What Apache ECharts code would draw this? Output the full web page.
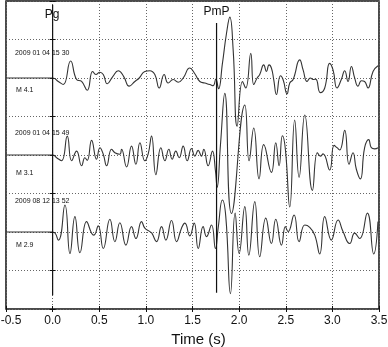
<!DOCTYPE html>
<html><head><meta charset="utf-8">
<script src="https://cdn.jsdelivr.net/npm/echarts@6/dist/echarts.min.js"></script>
<style>html,body{margin:0;padding:0;background:#fff}#c{width:388px;height:347px}</style>
</head><body><div id="c"></div>
<script>
// time axis
const xMin = -0.5, xMax = 3.5, xStep = 0.5;
// trace baselines (offset units)
const baselines = [6, 4, 2];
const eventDates = ['2009 01 04 15 30', '2009 01 04 15 49', '2009 08 12 13 52'];
const magnitudes = ['M 4.1', 'M 3.1', 'M 2.9'];
// phase picks [time, top, bottom]
const phaseNames = ['Pg', 'PmP'];
const phaseTimes = [0, 1.758];
const phaseTop = [7.9, 7.43];
const phaseBottom = [0.36, 0.42];

// [time (s), amplitude]
const trace1 = [[0,0],[.061,-.09],[.114,-.17],[.193,.44],[.257,-.04],[.311,-.09],[.371,-.32],[.429,.17],[.464,.09],[.507,.15],[.543,.09],[.586,-.15],[.643,.03],[.704,.19],[.764,.03],[.821,-.21],[.882,-.09],[.929,0],[.989,.17],[1.043,.19],[1.096,.09],[1.143,-.26],[1.196,.09],[1.239,-.13],[1.293,-.04],[1.346,-.11],[1.4,0],[1.471,.26],[1.525,.11],[1.579,-.09],[1.632,-.13],[1.686,-.17],[1.721,-.2],[1.75,-.03],[1.779,-.28],[1.821,.38],[1.864,1.15],[1.9,1.58],[1.936,.73],[1.979,-1.25],[2.036,-.09],[2.071,-.26],[2.125,.64],[2.157,-.17],[2.193,0],[2.221,.09],[2.264,.34],[2.293,.17],[2.321,.34],[2.346,.26],[2.371,-.04],[2.4,-.43],[2.443,.06],[2.471,-.04],[2.514,-.41],[2.543,-.13],[2.579,-.04],[2.65,.47],[2.686,.21],[2.729,-.09],[2.764,0],[2.793,-.04],[2.821,-.03],[2.871,-.38],[2.918,-.26],[2.971,.38],[3.007,.21],[3.05,-.26],[3.096,-.04],[3.132,.19],[3.168,-.09],[3.204,.3],[3.239,0],[3.275,-.21],[3.311,-.07],[3.346,-.09],[3.382,-.26],[3.436,.17],[3.489,.32]];
const trace2 = [[0,0],[.043,-.07],[.096,-.15],[.157,.49],[.204,-.15],[.257,.1],[.311,-.28],[.346,-.07],[.371,-.14],[.418,.38],[.471,-.11],[.507,.19],[.543,.02],[.579,-.28],[.632,.15],[.668,.06],[.721,.02],[.739,.15],[.793,-.31],[.846,.23],[.893,-.24],[.936,.32],[.989,-.15],[1.025,.03],[1.061,.49],[1.107,-.51],[1.161,.19],[1.204,-.15],[1.246,.15],[1.282,-.11],[1.321,.1],[1.357,-.07],[1.4,.23],[1.443,-.15],[1.489,.17],[1.525,-.03],[1.561,.12],[1.596,-.03],[1.621,.15],[1.668,-.28],[1.714,.1],[1.746,-.41],[1.764,-.84],[1.8,.27],[1.846,1.6],[1.918,-1.52],[2.061,1.3],[2.107,-.15],[2.157,.7],[2.214,-.62],[2.264,.27],[2.346,-.45],[2.393,.32],[2.429,-.28],[2.464,.5],[2.496,.15],[2.543,-1.35],[2.596,.91],[2.643,-.58],[2.704,1.04],[2.786,-.92],[2.839,.06],[2.871,-.03],[2.9,.03],[2.971,-.39],[3.018,.25],[3.05,.19],[3.079,.13],[3.132,.64],[3.179,-.24],[3.221,.06],[3.257,-.37],[3.3,-.62],[3.346,.19],[3.389,.4],[3.418,.19],[3.454,.16],[3.489,.19]];
const trace3 = [[0,0],[.061,-.21],[.132,.7],[.186,-.56],[.239,.4],[.293,-.54],[.364,.27],[.418,-.03],[.443,-.08],[.489,.16],[.543,-.43],[.614,.33],[.668,-.25],[.721,.24],[.786,-.34],[.846,.14],[.893,-.17],[.954,.27],[.989,.1],[1.043,.01],[1.064,-.03],[1.114,-.25],[1.168,.14],[1.214,-.21],[1.275,.3],[1.329,-.25],[1.382,.1],[1.418,.23],[1.471,-.1],[1.518,.23],[1.561,-.43],[1.614,.14],[1.65,-.12],[1.704,.18],[1.746,-.43],[1.775,.1],[1.821,.83],[1.857,.4],[1.907,-1.6],[1.957,.49],[2.0,-.56],[2.061,.66],[2.104,-.6],[2.168,.79],[2.221,-.64],[2.286,.36],[2.346,-.3],[2.393,.33],[2.454,-.34],[2.496,.14],[2.525,.01],[2.589,.44],[2.643,-.25],[2.704,.18],[2.757,.12],[2.811,-.08],[2.864,-.57],[2.918,.4],[2.989,-.21],[3.061,.31],[3.114,.01],[3.186,-.3],[3.239,-.03],[3.293,-.17],[3.375,.49],[3.443,-.57],[3.489,.27]];
const traces = [trace1, trace2, trace3];

const FONT = "'Liberation Sans', Arial, Helvetica, sans-serif";
const chart = echarts.init(document.getElementById('c'), null, {renderer: 'canvas'});
const dotted = {color: '#666', width: 1, type: [1, 2]};

const series = [];
traces.forEach((tr, k) => {
  const b = baselines[k];
  const data = [[xMin, b]].concat(tr.map(p => [p[0], b + p[1]]));
  series.push({type: 'line', data, symbol: 'none', smooth: 0.5, z: 3,
    lineStyle: {color: '#333', width: 1.1}, silent: true, animation: false});
});
phaseTimes.forEach((t, i) => {
  series.push({type: 'line', data: [[t, phaseTop[i]], [t, phaseBottom[i]]], symbol: 'none', z: 4,
    lineStyle: {color: '#111', width: 1.2}, silent: true, animation: false});
});

const grid = {left: 6, right: 9, top: 1, bottom: 38, containLabel: false, outerBoundsMode: 'none',
  show: true, borderColor: '#111', borderWidth: 1.5, backgroundColor: 'transparent'};
chart.setOption({
  animation: false,
  grid,
  xAxis: [{
    type: 'value', min: xMin, max: xMax, interval: xStep, position: 'bottom',
    axisLine: {show: false},
    axisTick: {show: true, inside: true, length: 3, lineStyle: {color: '#111'}},
    axisLabel: {color: '#111', fontSize: 12, fontFamily: FONT, margin: 6,
      formatter: v => (v === xMin ? '{first|' + v.toFixed(1) + '}' : v.toFixed(1)),
      rich: {first: {fontSize: 12, fontFamily: FONT, color: '#111', padding: [0, 0, 0, 10]}}},
    splitLine: {show: true, lineStyle: dotted},
    name: 'Time (s)', nameLocation: 'middle', nameGap: 20,
    nameTextStyle: {color: '#111', fontSize: 15, fontFamily: FONT, padding: [0, 0, 0, 12]}
  }, {
    type: 'value', min: xMin, max: xMax, interval: xStep, position: 'top',
    axisLine: {show: false}, axisLabel: {show: false}, splitLine: {show: false},
    axisTick: {show: true, inside: true, length: 3, lineStyle: {color: '#111'}}
  }],
  yAxis: [{
    type: 'value', min: 0, max: 8, interval: 1, position: 'left',
    axisLine: {show: false}, axisLabel: {show: false},
    axisTick: {show: true, inside: true, length: 3, lineStyle: {color: '#111'}},
    splitLine: {show: true, lineStyle: dotted}
  }, {
    type: 'value', min: 0, max: 8, interval: 1, position: 'right',
    axisLine: {show: false}, axisLabel: {show: false}, splitLine: {show: false},
    axisTick: {show: true, inside: true, length: 3, lineStyle: {color: '#111'}}
  }],
  series
});

// text annotations placed in data coordinates
const graphics = [];
const addText = (x, y, text, size, align) => {
  const p = chart.convertToPixel({xAxisIndex: 0, yAxisIndex: 0}, [x, y]);
  graphics.push({type: 'text', x: p[0], y: p[1], z: 10, silent: true,
    style: {text, fill: '#111', font: size + 'px ' + FONT, textAlign: align, textVerticalAlign: 'middle'}});
};
const dateY = [6.65, 4.58, 2.81];
const magY = [5.69, 3.525, 1.66];
eventDates.forEach((d, i) => addText(-0.404, dateY[i], d, 7, 'left'));
magnitudes.forEach((m, i) => addText(-0.393, magY[i], m, 7, 'left'));
addText(phaseTimes[0] - 0.005, 7.64, phaseNames[0], 12, 'center');
addText(phaseTimes[1], 7.71, phaseNames[1], 12, 'center');
chart.setOption({graphic: graphics});
</script></body></html>
